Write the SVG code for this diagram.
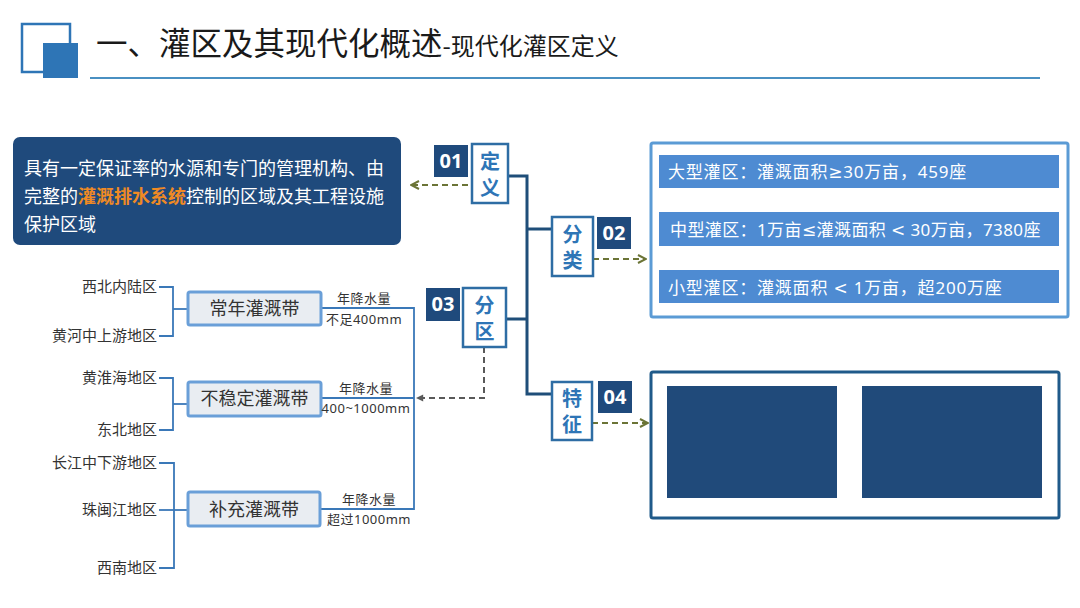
<svg xmlns="http://www.w3.org/2000/svg" width="1080" height="608" viewBox="0 0 1080 608">
<defs>
<style>
text{font-family:"Noto Sans","Noto Sans CJK SC","Microsoft YaHei",sans-serif}
.cjk{font-family:"Noto Sans CJK SC","Microsoft YaHei",sans-serif}
.sym{font-family:"DejaVu Sans","Noto Sans CJK SC",sans-serif}
.num{fill:#1f4a7c}
.numt{fill:#fff;font-size:20px;font-weight:bold;text-anchor:middle}
.tbox{fill:#fff;stroke:#2e6da4;stroke-width:2.5}
.vt{fill:#2e75b6;font-size:20px;font-weight:bold;writing-mode:vertical-rl;letter-spacing:6px;font-family:"Noto Sans CJK SC",sans-serif}
.tree{stroke:#1f4e79;stroke-width:3;fill:none}
.ltree{stroke:#3a78b8;stroke-width:1.8;fill:none}
.zbox{fill:#e9edf2;stroke:#6a9fd8;stroke-width:3}
.zt{fill:#333;font-size:18px;text-anchor:middle}
.reg{fill:#333;font-size:15px;text-anchor:end}
.rain{fill:#333;font-size:13px;text-anchor:middle;letter-spacing:0.5px}
.olive{stroke:#6b7436;stroke-width:2;stroke-dasharray:6 4;fill:none}
.gray{stroke:#595959;stroke-width:2;stroke-dasharray:6 4;fill:none}
.bar{fill:#4e8bd2}
.bart{fill:#fff;font-size:17px;letter-spacing:0.8px}
</style>
<marker id="oa" viewBox="0 0 10 10" refX="9" refY="5" markerWidth="10" markerHeight="10" markerUnits="userSpaceOnUse" orient="auto">
<path d="M1,1 L9,5 L1,9" fill="none" stroke="#6b7436" stroke-width="2"/>
</marker>
<marker id="ga" viewBox="0 0 10 10" refX="9" refY="5" markerWidth="9" markerHeight="9" markerUnits="userSpaceOnUse" orient="auto">
<path d="M1,1 L9,5 L1,9 Z" fill="#595959"/>
</marker>
</defs>
<rect width="1080" height="608" fill="#fff"/>

<g id="header">
<rect x="22" y="24" width="48" height="48" fill="#fff" stroke="#2e75b6" stroke-width="2.5"/>
<rect x="43" y="43" width="35" height="35" fill="#2e75b6"/>
<line x1="90" y1="78" x2="1040" y2="78" stroke="#4a90c2" stroke-width="2"/>
<text class="cjk" x="96" y="55" fill="#1a1a1a" font-size="31.5px">一、灌区及其现代化概述<tspan font-size="24px">-现代化灌区定义</tspan></text>
</g>

<g id="connectors">
<polyline class="tree" points="508,176 527,176 527,394 552,394"/>
<line class="tree" x1="527" y1="229" x2="552" y2="229"/>
<line class="tree" x1="506" y1="319" x2="527" y2="319"/>
<line class="olive" x1="468" y1="185" x2="411" y2="185" marker-end="url(#oa)"/>
<line class="olive" x1="593" y1="259" x2="646" y2="259" marker-end="url(#oa)"/>
<line class="olive" x1="592" y1="423" x2="648" y2="423" marker-end="url(#oa)"/>
<polyline class="gray" points="484,347 484,398 416,398" marker-end="url(#ga)"/>
<polyline class="ltree" points="321,308 414,308 414,509 320,509"/>
<line class="ltree" x1="321" y1="398" x2="414" y2="398"/>
<polyline class="ltree" points="159,287 173,287 173,336 159,336"/>
<line class="ltree" x1="173" y1="309" x2="188" y2="309"/>
<polyline class="ltree" points="159,378 173,378 173,430 159,430"/>
<line class="ltree" x1="173" y1="404" x2="188" y2="404"/>
<polyline class="ltree" points="159,463 174,463 174,568 159,568"/>
<line class="ltree" x1="159" y1="510" x2="188" y2="510"/>
</g>

<g id="definition">
<rect x="13" y="137" width="388" height="108" rx="7" fill="#1f4a7c"/>
<text class="cjk" x="24" y="175" fill="#fff" font-size="18px">具有一定保证率的水源和专门的管理机构、由</text>
<text class="cjk" x="24" y="203" fill="#fff" font-size="18px">完整的<tspan fill="#f08a24" font-weight="bold">灌溉排水系统</tspan>控制的区域及其工程设施</text>
<text class="cjk" x="24" y="231" fill="#fff" font-size="18px">保护区域</text>
</g>

<g id="n01">
<rect class="num" x="434" y="145" width="34" height="32"/>
<text class="numt" x="451" y="168">01</text>
<rect class="tbox" x="472" y="144" width="36" height="59"/>
<text class="vt" x="490" y="151">定义</text>
</g>

<g id="n02">
<rect class="tbox" x="552" y="217" width="41" height="59"/>
<text class="vt" x="572.5" y="224">分类</text>
<rect class="num" x="597" y="217" width="34" height="32"/>
<text class="numt" x="614" y="240">02</text>
</g>

<g id="n03">
<rect class="num" x="426" y="288" width="34" height="33"/>
<text class="numt" x="443" y="311">03</text>
<rect class="tbox" x="463" y="288" width="43" height="59"/>
<text class="vt" x="484.5" y="295">分区</text>
</g>

<g id="n04">
<rect class="tbox" x="552" y="382" width="40" height="58"/>
<text class="vt" x="572" y="388">特征</text>
<rect class="num" x="598" y="381" width="34" height="32"/>
<text class="numt" x="615" y="404">04</text>
</g>

<g id="classes">
<rect x="651" y="143" width="417" height="174" rx="2" fill="#fff" stroke="#5b9bd5" stroke-width="3"/>
<rect class="bar" x="659" y="155" width="400" height="33"/>
<text class="bart" x="668" y="178">大型灌区：灌溉面积<tspan class="sym">≥</tspan>30万亩，459座</text>
<rect class="bar" x="659" y="212" width="400" height="34"/>
<text class="bart" x="670" y="236" style="letter-spacing:0.4px">中型灌区：1万亩<tspan class="sym">≤</tspan>灌溉面积 <tspan class="sym">&lt;</tspan> 30万亩，7380座</text>
<rect class="bar" x="659" y="270" width="400" height="33"/>
<text class="bart" x="668" y="294">小型灌区：灌溉面积 <tspan class="sym">&lt;</tspan> 1万亩，超200万座</text>
</g>

<g id="features">
<rect x="651" y="372" width="408" height="146" rx="2" fill="#fff" stroke="#1f5a8a" stroke-width="3"/>
<rect x="667" y="386" width="170" height="112" fill="#204a7a"/>
<rect x="862" y="386" width="180" height="112" fill="#204a7a"/>
</g>

<g id="zone1">
<rect class="zbox" x="188" y="292" width="133" height="33" rx="2"/>
<text class="zt" x="254.5" y="315">常年灌溉带</text>
<text class="rain" x="364" y="303">年降水量</text>
<text class="rain" x="364" y="324">不足400mm</text>
<text class="reg" x="157" y="292">西北内陆区</text>
<text class="reg" x="157" y="341">黄河中上游地区</text>
</g>

<g id="zone2">
<rect class="zbox" x="188" y="382" width="133" height="34" rx="2"/>
<text class="zt" x="254.5" y="405">不稳定灌溉带</text>
<text class="rain" x="366" y="393">年降水量</text>
<text class="rain" x="366" y="413">400~1000mm</text>
<text class="reg" x="157" y="383">黄淮海地区</text>
<text class="reg" x="157" y="435">东北地区</text>
</g>

<g id="zone3">
<rect class="zbox" x="188" y="492" width="132" height="34" rx="2"/>
<text class="zt" x="254" y="516">补充灌溉带</text>
<text class="rain" x="369" y="504">年降水量</text>
<text class="rain" x="369" y="524">超过1000mm</text>
<text class="reg" x="157" y="468">长江中下游地区</text>
<text class="reg" x="157" y="515">珠闽江地区</text>
<text class="reg" x="157" y="573">西南地区</text>
</g>
</svg>
